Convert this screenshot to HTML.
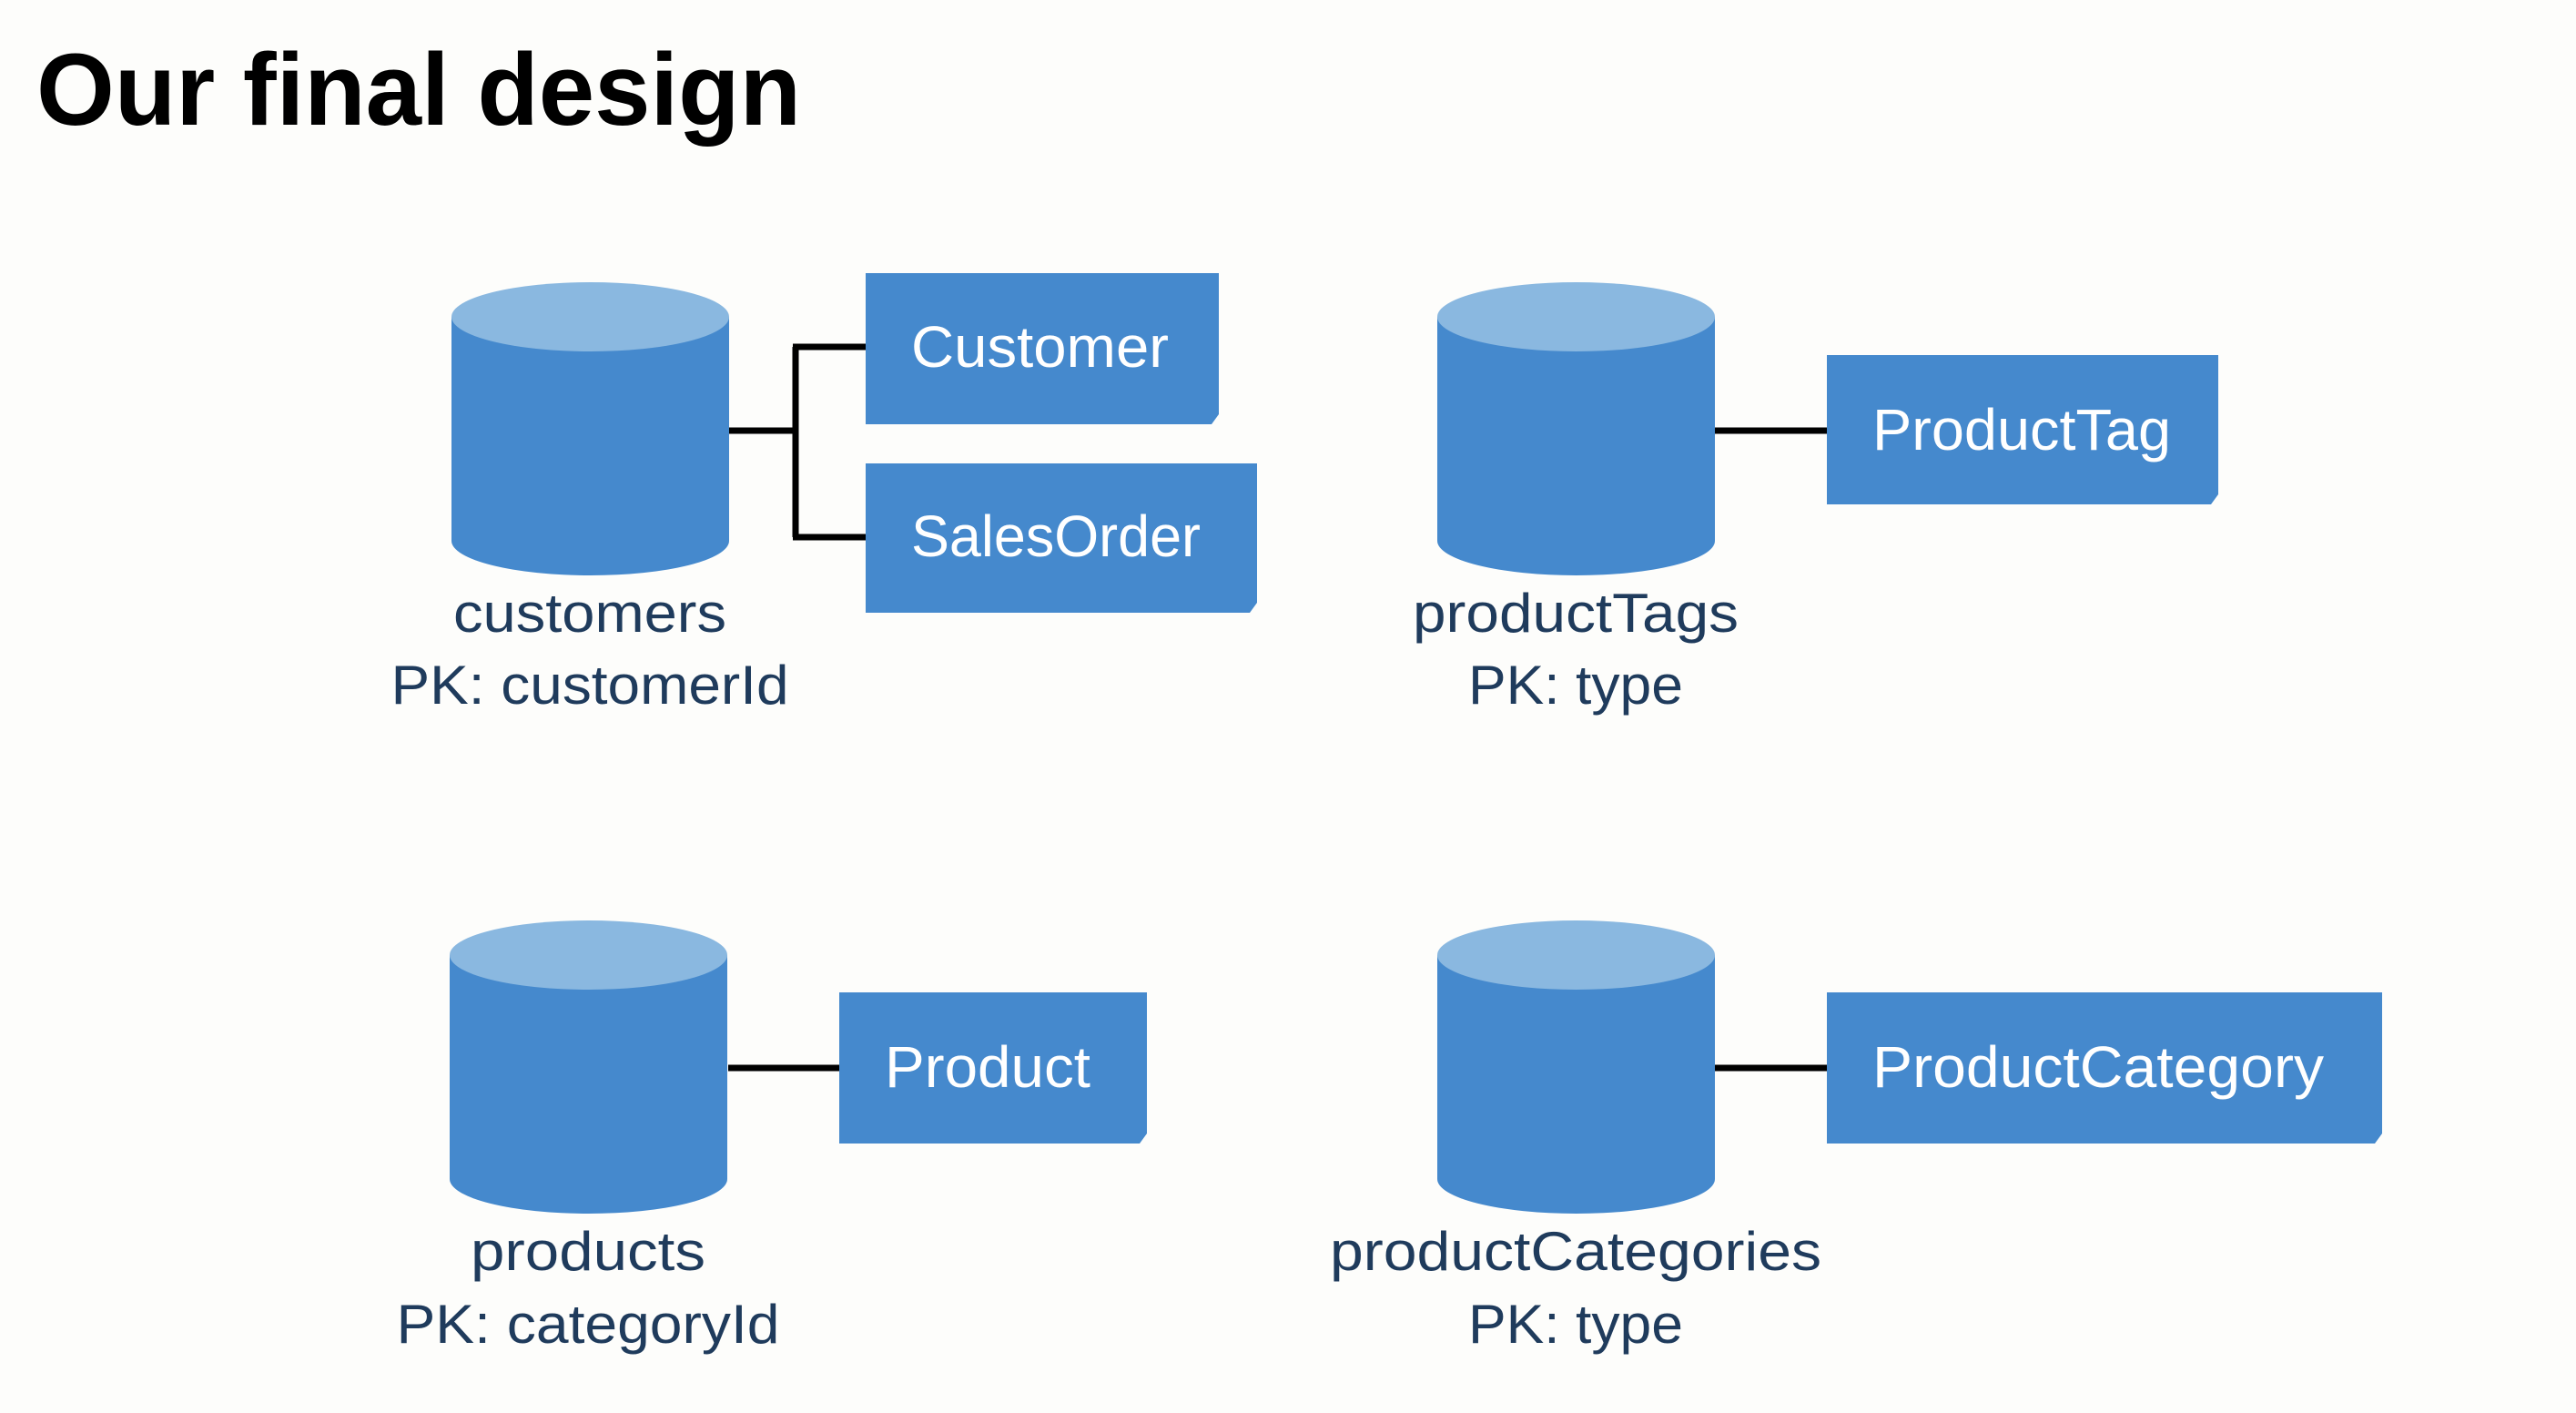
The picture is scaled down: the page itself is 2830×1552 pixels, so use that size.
<!DOCTYPE html>
<html><head><meta charset="utf-8"><style>
html,body{margin:0;padding:0;background:#fdfdfb;}
svg{display:block;}
</style></head><body>
<svg width="2830" height="1552" viewBox="0 0 2830 1552" xmlns="http://www.w3.org/2000/svg">
<rect width="2830" height="1552" fill="#fdfdfb"/>
<text x="40" y="137" font-family="Liberation Sans, sans-serif" font-weight="bold" font-size="112" fill="#000" textLength="840" lengthAdjust="spacingAndGlyphs">Our final design</text>

<defs>
<g id="cyl">
<path d="M0,38 L0,284 A152.5,38 0 0 0 305,284 L305,38 Z" fill="#4589cd"/>
<ellipse cx="152.5" cy="38" rx="152.5" ry="38" fill="#8ab8e0"/>
</g>
</defs>

<g stroke="#000" stroke-width="7" fill="none">
<path d="M801,473 H874 M874,381 V590 M871,381 H951 M871,590 H951"/>
<path d="M1884,473 H2007"/>
<path d="M800,1173 H922"/>
<path d="M1884,1173 H2007"/>
</g>

<use href="#cyl" x="496" y="310"/>
<use href="#cyl" x="1579" y="310"/>
<use href="#cyl" x="494" y="1011"/>
<use href="#cyl" x="1579" y="1011"/>

<g fill="#4589cd">
<path d="M951,300 H1339 V455 L1331,466 H951 Z"/>
<path d="M951,509 H1381 V662 L1373,673 H951 Z"/>
<path d="M2007,390 H2437 V543 L2429,554 H2007 Z"/>
<path d="M922,1090 H1260 V1245 L1252,1256 H922 Z"/>
<path d="M2007,1090 H2617 V1245 L2609,1256 H2007 Z"/>
</g>

<g font-family="Liberation Sans, sans-serif" font-size="64" fill="#fff">
<text x="1001" y="403" textLength="283" lengthAdjust="spacingAndGlyphs">Customer</text>
<text x="1001" y="611" textLength="318" lengthAdjust="spacingAndGlyphs">SalesOrder</text>
<text x="2057" y="494" textLength="328" lengthAdjust="spacingAndGlyphs">ProductTag</text>
<text x="972" y="1194" textLength="226" lengthAdjust="spacingAndGlyphs">Product</text>
<text x="2057" y="1194" textLength="496" lengthAdjust="spacingAndGlyphs">ProductCategory</text>
</g>

<g font-family="Liberation Sans, sans-serif" font-size="60" fill="#1f3b5c" text-anchor="middle">
<text x="648" y="694" textLength="300" lengthAdjust="spacingAndGlyphs">customers</text>
<text x="648" y="773" textLength="437" lengthAdjust="spacingAndGlyphs">PK: customerId</text>
<text x="1731" y="694" textLength="358" lengthAdjust="spacingAndGlyphs">productTags</text>
<text x="1731" y="773" textLength="236" lengthAdjust="spacingAndGlyphs">PK: type</text>
<text x="646" y="1395" textLength="258" lengthAdjust="spacingAndGlyphs">products</text>
<text x="646" y="1475" textLength="421" lengthAdjust="spacingAndGlyphs">PK: categoryId</text>
<text x="1731" y="1395" textLength="540" lengthAdjust="spacingAndGlyphs">productCategories</text>
<text x="1731" y="1475" textLength="236" lengthAdjust="spacingAndGlyphs">PK: type</text>
</g>
</svg>
</body></html>
